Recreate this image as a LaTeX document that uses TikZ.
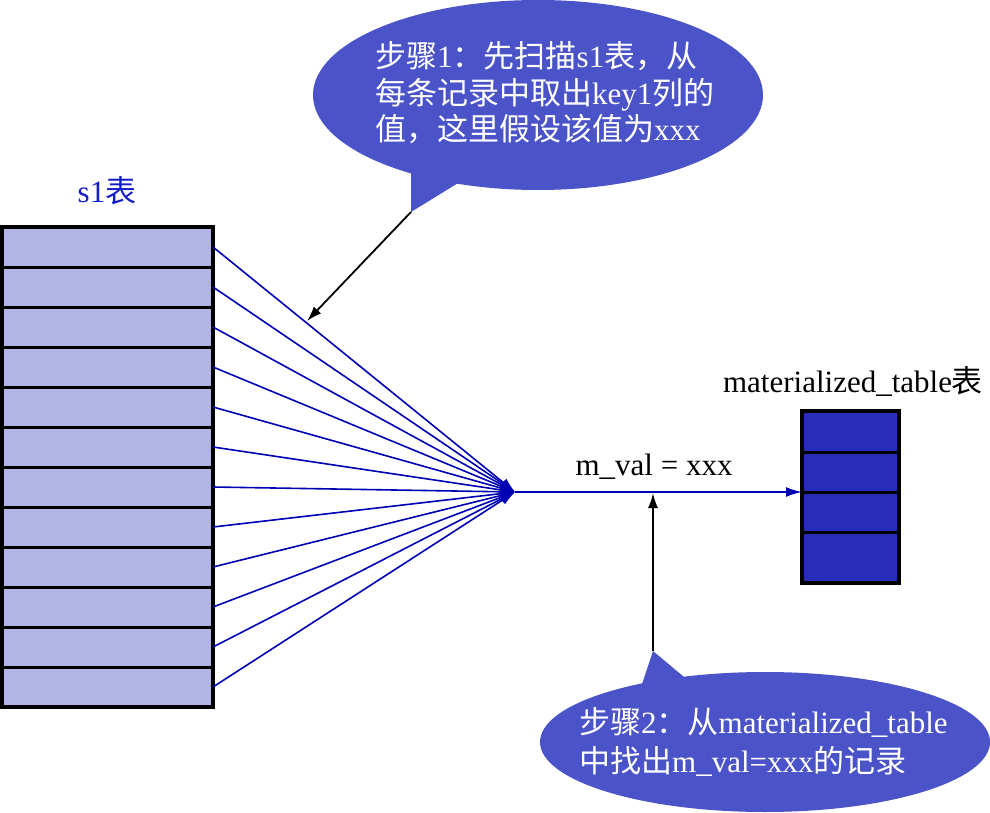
\documentclass[tikz,border=0pt]{standalone}
\usepackage{fontspec}
\setmainfont{Liberation Serif}
\newfontfamily\cjk{Noto Sans CJK SC}
\usetikzlibrary{arrows.meta,shapes.geometric}
\newcommand\zh[1]{{\cjk #1}}
\definecolor{sfill}{RGB}{178,180,230}
\definecolor{mfill}{RGB}{40,44,186}
\definecolor{linkblue}{RGB}{0,0,180}
\definecolor{callout}{RGB}{75,83,200}
\definecolor{headblue}{RGB}{20,30,200}
\begin{document}
\begin{tikzpicture}[x=1pt,y=-1pt,
  every node/.style={font=\fontsize{31}{37}\selectfont},
  srow/.style={draw=black,line width=3pt,fill=sfill,minimum width=211pt,minimum height=40pt,inner sep=0pt,outer sep=0pt},
  mrow/.style={draw=black,line width=3pt,fill=mfill,minimum width=97pt,inner sep=0pt,outer sep=0pt},
  fan/.style={draw=linkblue,line width=1.6pt,-{Latex[length=15pt,width=10pt]}},
  blink/.style={draw=linkblue,line width=1.8pt,-{Latex[length=16pt,width=10pt]}},
  karrow/.style={draw=black,line width=1.8pt,-{Latex[length=15pt,width=10pt]}},
  bubble/.style={ellipse,fill=callout,inner sep=0pt},
  btext/.style={text=white,anchor=base west,inner sep=0pt},
]
\useasboundingbox (0,0) rectangle (990,813);

% s1 table
\node[text=headblue,anchor=base,inner sep=0pt] (s1title) at (107,203) {s1\zh{表}};
\foreach \i in {1,...,12} \node[srow] (r\i) at (107.5,207+40*\i) {};
\draw[line width=4pt] (r1.north west) rectangle (r12.south east);

% materialized table
\node[anchor=base,inner sep=0pt] (mtitle) at (853,392) {materialized\_table\zh{表}};
\node[mrow,minimum height=41pt] (m1) at (850.5,431.5) {};
\node[mrow,minimum height=40pt] (m2) at (850.5,472) {};
\node[mrow,minimum height=40pt] (m3) at (850.5,512) {};
\node[mrow,minimum height=51pt] (m4) at (850.5,557.5) {};
\draw[line width=4pt] (m1.north west) rectangle (m4.south east);

% fan
\coordinate (hub) at (515,492);
\foreach \i in {1,...,12} \draw[fan] (r\i.east) -- (hub);
\draw[blink] (hub) -- (m2.south west);
\node[anchor=base,inner sep=0pt] (lbl) at (654,475) {m\_val = xxx};

% callout 1
\node[bubble,minimum width=450pt,minimum height=190pt] (c1) at (538,95) {};
\coordinate (t1) at (411,212);
\fill[callout] (411,166) -- (t1) -- (463,180) -- cycle;
\node[btext] (c1a) at (375,68) {\zh{步骤}1\zh{：先扫描}s1\zh{表，从}};
\node[btext] (c1b) at (375,104.5) {\zh{每条记录中取出}key1\zh{列的}};
\node[btext] (c1c) at (375,141) {\zh{值，这里假设该值为}xxx};
\coordinate (p1) at (307,321);
\draw[karrow] (t1) -- (p1);

% callout 2
\node[bubble,minimum width=450pt,minimum height=140pt] (c2) at (765,742) {};
\coordinate (t2) at (653,651);
\fill[callout] (640,690) -- (t2) -- (690,682) -- cycle;
\node[btext] (c2a) at (579,733) {\zh{步骤}2\zh{：从}materialized\_table};
\node[btext] (c2b) at (579,772) {\zh{中找出}m\_val=xxx\zh{的记录}};
\coordinate (p2) at (653,493);
\draw[karrow] (t2) -- (p2);
\end{tikzpicture}
\end{document}
